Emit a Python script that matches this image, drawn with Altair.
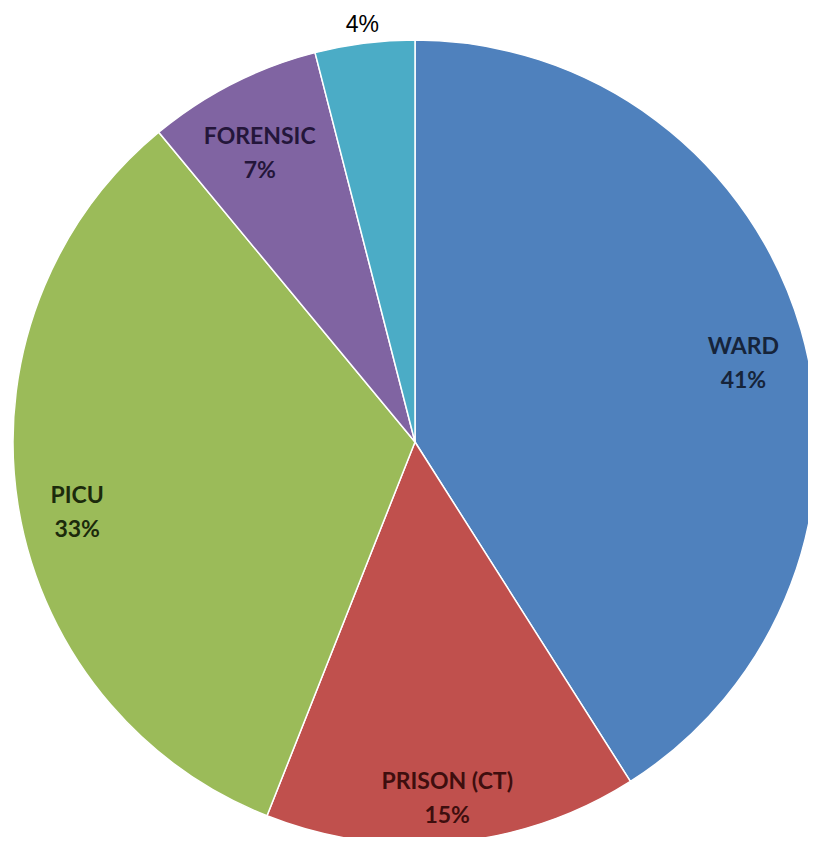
import altair as alt
import pandas as pd

categories = ["WARD", "PRISON (CT)", "PICU", "FORENSIC", "OTHER"]
values = [41, 15, 33, 7, 4]
pct_labels = ["41%", "15%", "33%", "7%", "4%"]
slice_colors = ["#4F81BD", "#C0504D", "#9BBB59", "#8064A2", "#4BACC6"]
text_colors = ["#16243a", "#3e0e0e", "#1c2a0c", "#24163a", "#000000"]
show_name = [True, True, True, True, False]

df = pd.DataFrame({
    "category": categories,
    "value": values,
    "pct": pct_labels,
    "order": list(range(len(categories))),
    "tcolor": text_colors,
})
df["label"] = [
    (c + "\n" + p) if s else p for c, p, s in zip(categories, pct_labels, show_name)
]
df["inside"] = show_name

cx, cy, r = 407, 434, 402

base = alt.Chart(df).encode(
    theta=alt.Theta("value:Q", stack=True),
    order=alt.Order("order:Q"),
    x=alt.value(cx),
    y=alt.value(cy),
)

pie = base.mark_arc(outerRadius=r, stroke="white", strokeWidth=1.5).encode(
    color=alt.Color(
        "category:N",
        scale=alt.Scale(domain=categories, range=slice_colors),
        legend=None,
    )
)

inside_text = base.mark_text(
    radius=342, font="Lato", fontWeight="bold", fontSize=23,
    lineBreak="\n", lineHeight=34, baseline="middle",
).encode(
    text="label:N",
    color=alt.Color("tcolor:N", scale=None),
    opacity=alt.condition("datum.inside", alt.value(1), alt.value(0)),
)

outside_text = base.mark_text(
    radius=420, font="Liberation Sans", fontWeight="normal", fontSize=23,
    baseline="middle",
).encode(
    text="label:N",
    color=alt.value("#000000"),
    opacity=alt.condition("datum.inside", alt.value(0), alt.value(1)),
)

chart = (
    alt.layer(pie, inside_text, outside_text)
    .properties(width=800, height=829, padding=0, autosize="none")
    .configure_view(stroke=None)
)

chart.save("out.html", embed_options={"renderer": "svg", "actions": False})
